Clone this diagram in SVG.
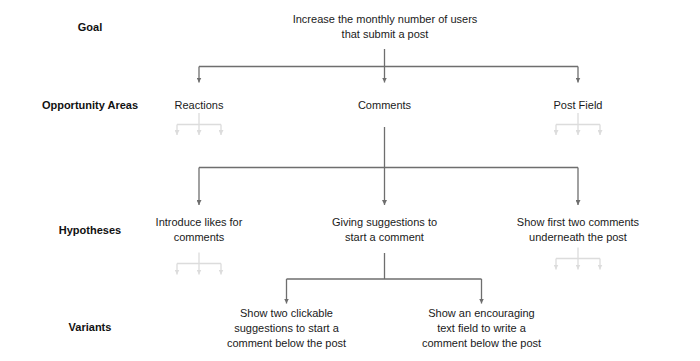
<svg xmlns="http://www.w3.org/2000/svg" width="700" height="361" viewBox="0 0 700 361">
<defs>
<style>
.lbl{font-family:"Liberation Sans",Arial,sans-serif;font-size:11px;font-weight:bold;fill:#111;text-anchor:middle}
.nd{font-family:"Liberation Sans",Arial,sans-serif;font-size:11px;fill:#1a1a1a;text-anchor:middle}
.ln{fill:none;stroke:#6e6e6e;stroke-width:1.3}
.lt{fill:none;stroke:#dcdcdc;stroke-width:1.3}
</style>
<marker id="ah" viewBox="0 0 6 6" refX="6" refY="3" markerWidth="5" markerHeight="5" markerUnits="userSpaceOnUse" orient="auto">
<path d="M0,0 L6,3 L0,6 z" fill="#6e6e6e"/>
</marker>
<marker id="al" viewBox="0 0 6 6" refX="6" refY="3" markerWidth="5" markerHeight="5" markerUnits="userSpaceOnUse" orient="auto">
<path d="M0,0 L6,3 L0,6 z" fill="#dcdcdc"/>
</marker>
</defs>
<rect width="700" height="361" fill="#ffffff"/>

<g id="labels">
<text class="lbl" x="90" y="31">Goal</text>
<text class="lbl" x="90" y="109">Opportunity Areas</text>
<text class="lbl" x="90" y="234">Hypotheses</text>
<text class="lbl" x="90" y="331">Variants</text>
</g>

<g id="connectors">
<path class="ln" d="M384.5,49 V66.5"/>
<path class="ln" d="M199,66.5 H578"/>
<path class="ln" d="M199,66.5 V82.5" marker-end="url(#ah)"/>
<path class="ln" d="M384.5,66.5 V82.5" marker-end="url(#ah)"/>
<path class="ln" d="M578,66.5 V82.5" marker-end="url(#ah)"/>

<path class="ln" d="M384.5,127 V167.5"/>
<path class="ln" d="M199,167.5 H578"/>
<path class="ln" d="M199,167.5 V205" marker-end="url(#ah)"/>
<path class="ln" d="M384.5,167.5 V205" marker-end="url(#ah)"/>
<path class="ln" d="M578,167.5 V205" marker-end="url(#ah)"/>

<path class="ln" d="M384.5,253 V279"/>
<path class="ln" d="M286.5,279 H481.5"/>
<path class="ln" d="M286.5,279 V303.5" marker-end="url(#ah)"/>
<path class="ln" d="M481.5,279 V303.5" marker-end="url(#ah)"/>

<path class="lt" d="M199,113 V124.5 M177,124.5 H221"/>
<path class="lt" d="M177,124.5 V135" marker-end="url(#al)"/>
<path class="lt" d="M199,124.5 V135" marker-end="url(#al)"/>
<path class="lt" d="M221,124.5 V135" marker-end="url(#al)"/>

<path class="lt" d="M578,113 V124.5 M556,124.5 H600"/>
<path class="lt" d="M556,124.5 V135" marker-end="url(#al)"/>
<path class="lt" d="M578,124.5 V135" marker-end="url(#al)"/>
<path class="lt" d="M600,124.5 V135" marker-end="url(#al)"/>

<path class="lt" d="M199,252.5 V263.5 M177,263.5 H221"/>
<path class="lt" d="M177,263.5 V274.5" marker-end="url(#al)"/>
<path class="lt" d="M199,263.5 V274.5" marker-end="url(#al)"/>
<path class="lt" d="M221,263.5 V274.5" marker-end="url(#al)"/>

<path class="lt" d="M578,247.5 V258.5 M556,258.5 H600"/>
<path class="lt" d="M556,258.5 V269.5" marker-end="url(#al)"/>
<path class="lt" d="M578,258.5 V269.5" marker-end="url(#al)"/>
<path class="lt" d="M600,258.5 V269.5" marker-end="url(#al)"/>
</g>

<g id="goal">
<text class="nd" x="385" y="23"><tspan x="385">Increase the monthly number of users</tspan><tspan x="385" dy="15">that submit a post</tspan></text>
</g>
<g id="reactions"><text class="nd" x="199" y="109">Reactions</text></g>
<g id="comments"><text class="nd" x="384.5" y="109">Comments</text></g>
<g id="postfield"><text class="nd" x="578" y="109">Post Field</text></g>

<g id="hyp-likes">
<text class="nd" x="199" y="226"><tspan x="199">Introduce likes for</tspan><tspan x="199" dy="15">comments</tspan></text>
</g>
<g id="hyp-suggestions">
<text class="nd" x="384.5" y="226"><tspan x="384.5">Giving suggestions to</tspan><tspan x="384.5" dy="15">start a comment</tspan></text>
</g>
<g id="hyp-firsttwo">
<text class="nd" x="578" y="226"><tspan x="578">Show first two comments</tspan><tspan x="578" dy="15">underneath the post</tspan></text>
</g>

<g id="var-clickable">
<text class="nd" x="286.5" y="317"><tspan x="286.5">Show two clickable</tspan><tspan x="286.5" dy="15">suggestions to start a</tspan><tspan x="286.5" dy="15">comment below the post</tspan></text>
</g>
<g id="var-textfield">
<text class="nd" x="481.5" y="317"><tspan x="481.5">Show an encouraging</tspan><tspan x="481.5" dy="15">text field to write a</tspan><tspan x="481.5" dy="15">comment below the post</tspan></text>
</g>
</svg>
